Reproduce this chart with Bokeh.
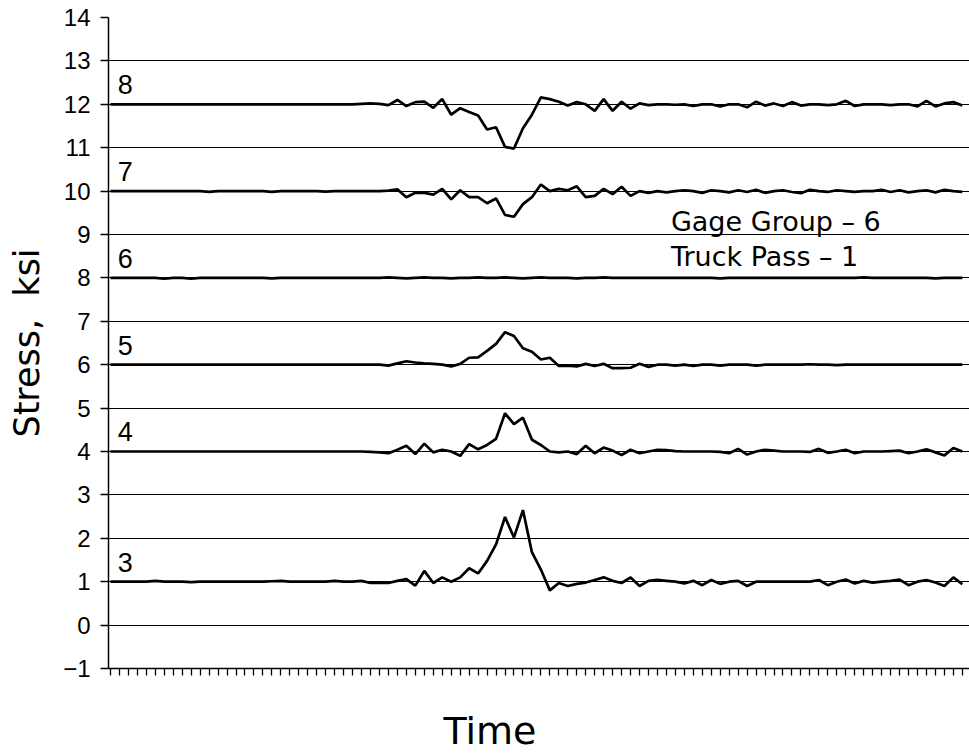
from bokeh.plotting import figure
from bokeh.models import Range1d, FixedTicker, Label, Title
from bokeh.embed import file_html
from bokeh.resources import INLINE
from bokeh.core.properties import value

# ---------------- data ----------------
time_idx = list(range(96))
y_ticks = list(range(-1, 15))
series_names = ["3", "4", "5", "6", "7", "8"]
series_base = [1, 4, 6, 8, 10, 12]

s3 = [1.00, 1.00, 1.00, 1.00, 1.00, 1.02, 1.00, 1.00, 1.00, 0.99,
      1.00, 1.00, 1.00, 1.00, 1.00, 1.00, 1.00, 1.00, 1.01, 1.02,
      1.00, 1.00, 1.00, 1.00, 1.00, 1.02, 1.00, 1.00, 1.02, 0.97,
      0.98, 0.97, 1.02, 1.06, 0.91, 1.25, 0.97, 1.10, 1.00, 1.10,
      1.31, 1.19, 1.48, 1.86, 2.49, 2.02, 2.65, 1.68, 1.28, 0.80,
      0.97, 0.90, 0.95, 0.98, 1.04, 1.10, 1.02, 0.97, 1.10, 0.90,
      1.02, 1.04, 1.02, 1.00, 0.96, 1.02, 0.92, 1.04, 0.95, 1.00,
      1.02, 0.90, 1.00, 1.00, 1.00, 1.00, 1.00, 1.00, 1.00, 1.04,
      0.92, 1.00, 1.05, 0.96, 1.02, 0.98, 1.00, 1.02, 1.05, 0.92,
      1.00, 1.04, 0.98, 0.90, 1.10, 0.94]

s4 = [4.00, 4.00, 4.00, 4.00, 4.00, 4.00, 4.00, 4.00, 4.00, 4.00,
      4.00, 4.00, 4.00, 4.00, 4.00, 4.00, 4.00, 4.00, 4.00, 4.00,
      4.00, 4.00, 4.00, 4.00, 4.00, 4.00, 4.00, 4.00, 4.00, 3.99,
      3.98, 3.96, 4.04, 4.13, 3.94, 4.18, 3.98, 4.04, 4.00, 3.90,
      4.17, 4.05, 4.15, 4.29, 4.88, 4.63, 4.78, 4.27, 4.15, 4.00,
      3.98, 4.00, 3.94, 4.13, 3.96, 4.09, 4.02, 3.92, 4.04, 3.96,
      4.00, 4.04, 4.03, 4.01, 4.00, 4.00, 4.00, 4.00, 3.99, 3.96,
      4.06, 3.93, 4.00, 4.04, 4.02, 4.00, 4.00, 4.00, 3.99, 4.06,
      3.97, 4.00, 4.04, 3.96, 4.00, 4.00, 4.00, 4.01, 4.02, 3.96,
      4.00, 4.05, 3.98, 3.91, 4.08, 4.00]

s5 = [6.00, 6.00, 6.00, 6.00, 6.00, 6.00, 6.00, 6.00, 6.00, 6.00,
      6.00, 6.00, 6.00, 6.00, 6.00, 6.00, 6.00, 6.00, 6.00, 6.00,
      6.00, 6.00, 6.00, 6.00, 6.00, 6.00, 6.00, 6.00, 6.00, 6.00,
      6.00, 5.98, 6.03, 6.08, 6.05, 6.03, 6.02, 6.00, 5.96, 6.02,
      6.16, 6.17, 6.32, 6.48, 6.75, 6.66, 6.38, 6.30, 6.12, 6.16,
      5.97, 5.98, 5.96, 6.02, 5.97, 6.02, 5.92, 5.92, 5.93, 6.02,
      5.95, 6.00, 6.00, 5.98, 6.00, 5.97, 6.00, 6.00, 5.98, 6.00,
      6.00, 6.00, 5.98, 6.00, 6.00, 6.00, 6.00, 6.00, 6.01, 6.00,
      6.00, 5.99, 6.00, 6.00, 6.00, 6.00, 6.00, 6.00, 6.00, 6.00,
      6.00, 6.00, 6.00, 6.00, 6.00, 6.00]

s6 = [8.00, 8.00, 8.00, 8.00, 8.00, 8.00, 7.98, 8.00, 8.00, 7.98,
      8.00, 8.00, 8.00, 8.00, 8.00, 8.00, 8.00, 8.00, 7.99, 8.00,
      8.00, 8.00, 8.00, 8.00, 8.00, 8.00, 8.00, 8.00, 8.00, 8.00,
      8.00, 8.01, 8.00, 7.99, 8.00, 8.01, 8.00, 8.00, 7.99, 8.00,
      8.00, 8.01, 8.00, 8.00, 8.01, 8.00, 7.99, 8.00, 8.01, 8.00,
      8.00, 8.00, 7.99, 8.00, 8.00, 8.01, 8.00, 8.00, 8.00, 8.00,
      8.00, 8.00, 8.00, 8.00, 8.00, 8.00, 8.00, 8.00, 7.99, 8.00,
      8.00, 8.00, 8.00, 8.00, 8.00, 8.00, 8.00, 8.00, 8.00, 8.00,
      8.00, 8.00, 8.00, 8.00, 8.01, 8.00, 8.00, 8.00, 8.00, 8.00,
      8.00, 8.00, 7.99, 8.00, 8.00, 8.00]

s7 = [10.00, 10.00, 10.00, 10.00, 10.00, 10.00, 10.00, 10.00, 10.00, 10.00,
      10.00, 9.98, 10.00, 10.00, 10.00, 10.00, 10.00, 10.00, 9.98, 10.00,
      10.00, 10.00, 10.00, 10.00, 9.99, 10.00, 10.00, 10.00, 10.00, 10.00,
      10.00, 10.01, 10.04, 9.86, 9.96, 9.96, 9.92, 10.05, 9.81, 10.02,
      9.86, 9.86, 9.72, 9.83, 9.45, 9.41, 9.70, 9.86, 10.15, 10.00,
      10.05, 10.02, 10.11, 9.86, 9.89, 10.05, 9.93, 10.10, 9.89, 10.00,
      9.96, 10.00, 9.97, 10.00, 10.02, 10.00, 9.96, 10.02, 10.00, 9.97,
      10.02, 9.98, 10.03, 9.96, 10.00, 10.02, 9.98, 9.95, 10.03, 10.00,
      9.98, 10.02, 10.00, 9.98, 10.00, 10.00, 10.03, 9.98, 10.02, 9.97,
      10.00, 10.02, 9.97, 10.03, 10.00, 9.98]

s8 = [12.00, 12.00, 12.00, 12.00, 12.00, 12.00, 12.00, 12.00, 12.00, 12.00,
      12.00, 12.00, 12.00, 12.00, 12.00, 12.00, 12.00, 12.00, 12.00, 12.00,
      12.00, 12.00, 12.00, 12.00, 12.00, 12.00, 12.00, 12.00, 12.01, 12.02,
      12.01, 11.98, 12.10, 11.96, 12.05, 12.06, 11.92, 12.12, 11.76, 11.91,
      11.82, 11.74, 11.42, 11.47, 11.02, 10.98, 11.45, 11.76, 12.16, 12.12,
      12.06, 11.97, 12.05, 12.00, 11.85, 12.12, 11.85, 12.06, 11.90, 12.02,
      11.98, 12.00, 12.00, 11.99, 12.00, 11.96, 12.00, 12.00, 11.95, 12.00,
      12.00, 11.93, 12.06, 11.97, 12.02, 11.96, 12.05, 11.97, 12.00, 12.00,
      11.98, 12.00, 12.08, 11.96, 12.00, 12.00, 12.00, 11.98, 12.00, 12.00,
      11.95, 12.08, 11.95, 12.02, 12.05, 11.97]

all_series = [s3, s4, s5, s6, s7, s8]

note_lines = ["Gage Group \u2013 6", "Truck Pass \u2013 1"]
x_label = "Time"
y_label = "Stress,\u00a0\u00a0ksi"

# ---------------- figure ----------------
p = figure(width=969, height=756, output_backend="svg", toolbar_location=None,
           x_range=Range1d(-0.22, 95.8), y_range=Range1d(-1, 14),
           min_border_left=108, min_border_right=0,
           min_border_top=17, min_border_bottom=88)
p.outline_line_color = None
p.background_fill_color = "white"
p.border_fill_color = "white"

# y axis
p.yaxis.ticker = FixedTicker(ticks=y_ticks)
p.yaxis.major_label_overrides = {-1: "\u22121"}
p.yaxis.major_label_text_font = "Liberation Sans"
p.yaxis.major_label_text_font_size = "24px"
p.yaxis.major_label_text_color = "black"
p.yaxis.major_label_standoff = 10
p.yaxis.major_tick_out = 8
p.yaxis.major_tick_in = 0
p.yaxis.major_tick_line_color = "black"
p.yaxis.major_tick_line_width = 1.3
p.yaxis.minor_tick_line_color = None
p.yaxis.axis_line_color = "black"
p.yaxis.axis_line_width = 1.5
p.yaxis.axis_label = y_label
p.yaxis.axis_label_text_font = "DejaVu Sans"
p.yaxis.axis_label_text_font_size = "35px"
p.yaxis.axis_label_text_font_style = "normal"
p.yaxis.axis_label_text_color = "black"
p.yaxis.axis_label_standoff = 13

# x axis (spacer label keeps the title lower)
p.xaxis.ticker = FixedTicker(ticks=time_idx)
p.xaxis.major_label_overrides = {t: "" for t in time_idx}
p.xaxis.major_tick_out = 7
p.xaxis.major_tick_in = 0
p.xaxis.major_tick_line_color = "black"
p.xaxis.major_tick_line_width = 1.3
p.xaxis.minor_tick_line_color = None
p.xaxis.axis_line_color = "black"
p.xaxis.axis_line_width = 1.5
p.xaxis.major_label_standoff = 0
p.xaxis.axis_label = "\u00a0"
p.xaxis.axis_label_text_font_size = "12px"
p.xaxis.axis_label_standoff = 14

# grid
p.xgrid.visible = False
p.ygrid.ticker = FixedTicker(ticks=y_ticks)
p.ygrid.grid_line_color = "black"
p.ygrid.grid_line_width = 1.2

# series
for vals in all_series:
    p.line(time_idx, vals, line_color="black", line_width=2.7)

# series labels
p.text(x=[0.8] * len(series_names), y=[b + 0.45 for b in series_base],
       text=series_names, text_font=value("Liberation Sans"),
       text_font_size="27px", text_baseline="alphabetic", text_align="left",
       text_color="black")

# note
for txt, yy in zip(note_lines, [9.30, 8.50]):
    p.add_layout(Label(x=62.5, y=yy, text=txt, text_font="DejaVu Sans",
                       text_font_size="27px", text_baseline="alphabetic",
                       text_align="left", text_color="black"))

# x label
p.add_layout(Title(text=x_label, align="left", offset=335, standoff=0,
                   text_font="DejaVu Sans", text_font_size="38px",
                   text_font_style="normal", text_color="black"), "below")

open("out.html", "w").write(file_html(p, INLINE))
